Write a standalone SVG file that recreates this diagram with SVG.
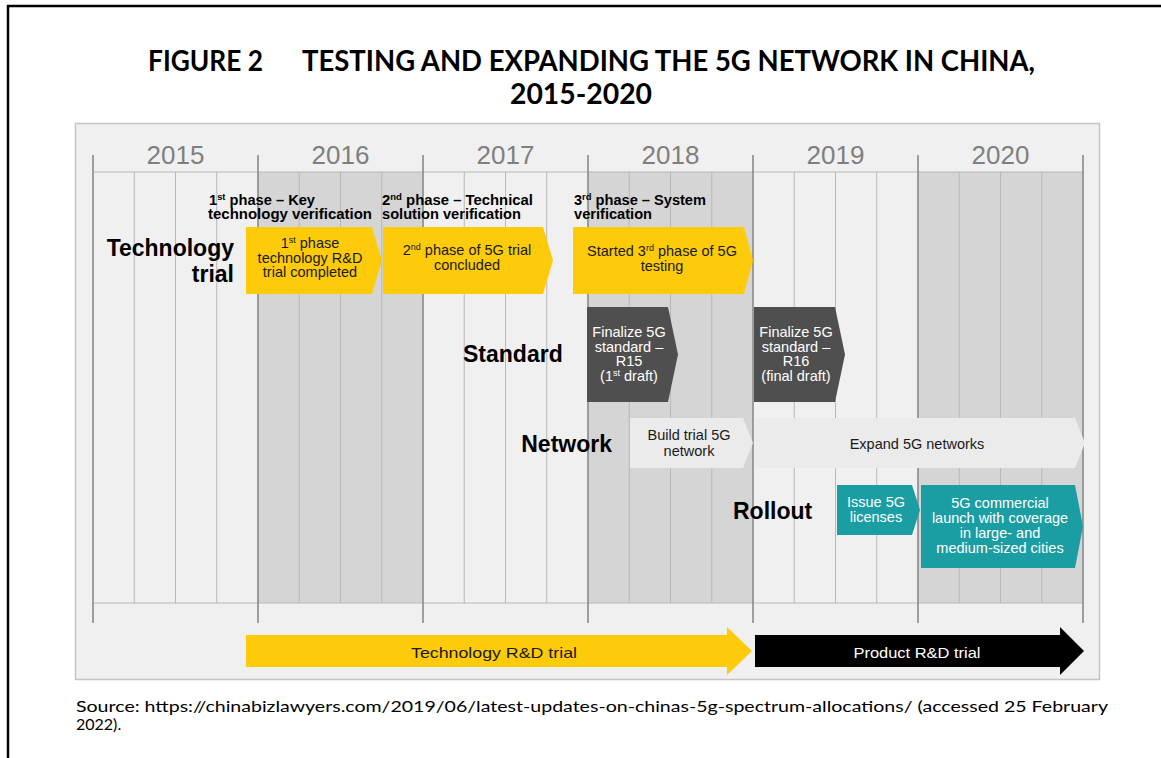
<svg xmlns="http://www.w3.org/2000/svg" width="1161" height="758" viewBox="0 0 1161 758">
<style>
.title{font-family:Lato,"Liberation Sans",sans-serif;font-weight:bold;font-size:28px;fill:#000}
.src{font-family:Lato,"Liberation Sans",sans-serif;font-size:16px;fill:#000}
.year{font-family:"Liberation Sans",Arial,sans-serif;font-size:26px;fill:#7f7f7f;text-anchor:middle}
.row{font-family:"Liberation Sans",Arial,sans-serif;font-weight:bold;font-size:23px;fill:#000}
.phase{font-family:"Liberation Sans",Arial,sans-serif;font-weight:bold;font-size:14px;fill:#000}
.bt{font-family:"Liberation Sans",Arial,sans-serif;font-size:14.5px;text-anchor:middle}
.dk{fill:#1a1a1a}
.wh{fill:#fff}
.yel{fill:#fdcb0a}
.gry{fill:#4f4f4f}
.net{fill:#ebebeb}
.teal{fill:#1a9ea4}
.q{stroke:#b8b8b8;stroke-width:1}
.y{stroke:#8a8a8a;stroke-width:1.6}
</style>
<rect width="1161" height="758" fill="#fff"/>
<g id="frame" fill="none" stroke="#000" stroke-width="2.5">
<path d="M8,758 V6 H1161"/>
</g>
<g id="title">
<text class="title" x="148" y="71" textLength="115" lengthAdjust="spacingAndGlyphs">FIGURE 2</text>
<text class="title" x="302" y="71" textLength="733" lengthAdjust="spacingAndGlyphs">TESTING AND EXPANDING THE 5G NETWORK IN CHINA,</text>
<text class="title" x="510" y="104" textLength="142" lengthAdjust="spacingAndGlyphs">2015-2020</text>
</g>
<g id="panel">
<rect x="75.5" y="123.5" width="1024" height="556" fill="#f0f0f0" stroke="#c4c4c4" stroke-width="1.5"/>
<rect x="258" y="172" width="165" height="431" fill="#d5d5d5"/>
<rect x="588" y="172" width="165" height="431" fill="#d5d5d5"/>
<rect x="918" y="172" width="165" height="431" fill="#d5d5d5"/>
<g class="q">
<path d="M134.25,172V603M175.5,172V603M216.75,172V603M299.25,172V603M340.5,172V603M381.75,172V603M464.25,172V603M505.5,172V603M546.75,172V603M629.25,172V603M670.5,172V603M711.75,172V603M794.25,172V603M835.5,172V603M876.75,172V603M959.25,172V603M1000.5,172V603M1041.75,172V603"/>
<path d="M93,172H1083M93,603H1083"/>
</g>
<g class="y">
<path d="M93,155V623M258,155V623M423,155V623M588,155V623M753,155V623M918,155V623M1083,155V623"/>
</g>
<text class="year" x="175.5" y="164">2015</text>
<text class="year" x="340.5" y="164">2016</text>
<text class="year" x="505.5" y="164">2017</text>
<text class="year" x="670.5" y="164">2018</text>
<text class="year" x="835.5" y="164">2019</text>
<text class="year" x="1000.5" y="164">2020</text>
</g>
<g id="row-labels">
<text class="row" x="234" y="256" text-anchor="end">Technology</text>
<text class="row" x="234" y="282" text-anchor="end">trial</text>
<text class="row" x="463" y="362">Standard</text>
<text class="row" x="612" y="452" text-anchor="end">Network</text>
<text class="row" x="733" y="519">Rollout</text>
</g>
<g id="phase-labels">
<text class="phase" x="209" y="205" textLength="106" lengthAdjust="spacingAndGlyphs">1<tspan font-size="9" dy="-5">st</tspan><tspan dy="5"> phase – Key</tspan></text>
<text class="phase" x="208" y="219" textLength="164" lengthAdjust="spacingAndGlyphs">technology verification</text>
<text class="phase" x="382" y="205" textLength="151" lengthAdjust="spacingAndGlyphs">2<tspan font-size="9" dy="-5">nd</tspan><tspan dy="5"> phase – Technical</tspan></text>
<text class="phase" x="382" y="219" textLength="139" lengthAdjust="spacingAndGlyphs">solution verification</text>
<text class="phase" x="574" y="205" textLength="132" lengthAdjust="spacingAndGlyphs">3<tspan font-size="9" dy="-5">rd</tspan><tspan dy="5"> phase – System</tspan></text>
<text class="phase" x="574" y="219" textLength="78" lengthAdjust="spacingAndGlyphs">verification</text>
</g>
<g id="tech1">
<polygon class="yel" points="246,227 372,227 382,260.5 372,294 246,294"/>
<text class="bt dk" x="310" y="248">1<tspan font-size="9" dy="-5">st</tspan><tspan dy="5"> phase</tspan></text>
<text class="bt dk" x="310" y="263">technology R&amp;D</text>
<text class="bt dk" x="310" y="277">trial completed</text>
</g>
<g id="tech2">
<polygon class="yel" points="383,227 543,227 553,260.5 543,294 383,294"/>
<text class="bt dk" x="467" y="255">2<tspan font-size="9" dy="-5">nd</tspan><tspan dy="5"> phase of 5G trial</tspan></text>
<text class="bt dk" x="467" y="270">concluded</text>
</g>
<g id="tech3">
<polygon class="yel" points="573,227 744,227 753,260.5 744,294 573,294"/>
<text class="bt dk" x="662" y="256">Started 3<tspan font-size="9" dy="-5">rd</tspan><tspan dy="5"> phase of 5G</tspan></text>
<text class="bt dk" x="662" y="271">testing</text>
</g>
<g id="std1">
<polygon class="gry" points="587,307 668,307 678,354.5 668,402 587,402"/>
<text class="bt wh" x="629" y="337">Finalize 5G</text>
<text class="bt wh" x="629" y="352">standard –</text>
<text class="bt wh" x="629" y="366">R15</text>
<text class="bt wh" x="629" y="381">(1<tspan font-size="9" dy="-5">st</tspan><tspan dy="5"> draft)</tspan></text>
</g>
<g id="std2">
<polygon class="gry" points="754,307 835,307 845,354.5 835,402 754,402"/>
<text class="bt wh" x="796" y="337">Finalize 5G</text>
<text class="bt wh" x="796" y="352">standard –</text>
<text class="bt wh" x="796" y="366">R16</text>
<text class="bt wh" x="796" y="381">(final draft)</text>
</g>
<g id="net1">
<polygon class="net" points="630,418 743,418 753,443 743,468 630,468"/>
<text class="bt dk" x="689" y="440">Build trial 5G</text>
<text class="bt dk" x="689" y="456">network</text>
</g>
<g id="net2">
<polygon class="net" points="755,418 1075,418 1085,443 1075,468 755,468"/>
<text class="bt dk" x="917" y="449">Expand 5G networks</text>
</g>
<g id="roll1">
<polygon class="teal" points="837,485 912,485 920,510 912,535 837,535"/>
<text class="bt wh" x="876" y="507">Issue 5G</text>
<text class="bt wh" x="876" y="522">licenses</text>
</g>
<g id="roll2">
<polygon class="teal" points="921,485 1075,485 1083,526.5 1075,568 921,568"/>
<text class="bt wh" x="1000" y="508">5G commercial</text>
<text class="bt wh" x="1000" y="523">launch with coverage</text>
<text class="bt wh" x="1000" y="538">in large- and</text>
<text class="bt wh" x="1000" y="553">medium-sized cities</text>
</g>
<g id="techRD">
<polygon class="yel" points="246,635 727,635 727,627 752,651 727,675 727,667 246,667"/>
<text class="bt dk" x="494" y="658" font-size="18" textLength="166" lengthAdjust="spacingAndGlyphs">Technology R&amp;D trial</text>
</g>
<g id="prodRD">
<polygon fill="#000" points="755,635 1060,635 1060,627 1084,651 1060,675 1060,667 755,667"/>
<text class="bt wh" x="917" y="658" font-size="18" textLength="127" lengthAdjust="spacingAndGlyphs">Product R&amp;D trial</text>
</g>
<g id="connectors"></g>
<g id="source">
<text class="src" x="76" y="712" textLength="1032" lengthAdjust="spacingAndGlyphs">Source: https://chinabizlawyers.com/2019/06/latest-updates-on-chinas-5g-spectrum-allocations/ (accessed 25 February</text>
<text class="src" x="76" y="730">2022).</text>
</g>
</svg>
